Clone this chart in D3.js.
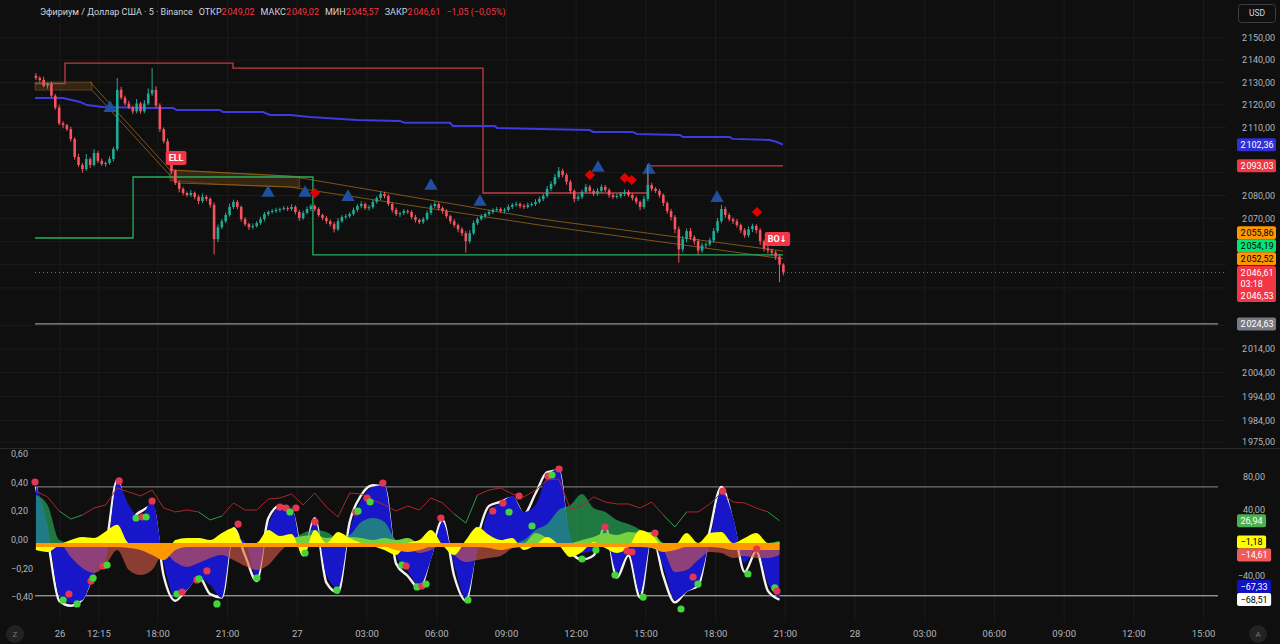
<!DOCTYPE html>
<html lang="ru">
<head>
<meta charset="utf-8">
<title>ETHUSD 5</title>
<script src="https://cdn.jsdelivr.net/npm/d3@7"></script>
<style>
    html, body { margin: 0; padding: 0; background: #0f0f0f; }
    svg { display: block; }
    text { font-family: Roboto, "DejaVu Sans", sans-serif; }
</style>
</head>
<body>
<svg id="chart" width="1280" height="644"></svg>
<script>
// ---------- price data (10 min candles, hours since 26th 00:00) ----------
var candleStart = 12.75,
    candleStep = 1 / 6,
    firstOpen = 2133.0;

var closes = [
    2132.0, 2131.1, 2128.5, 2129.4, 2124.1, 2118.8, 2111.8, 2111.0, 2109.2, 2104.8,
    2096.9, 2093.4, 2091.6, 2096.0, 2093.4, 2098.7, 2095.2, 2093.8, 2094.3, 2096.0,
    2100.4, 2126.7, 2123.2, 2120.6, 2118.8, 2117.1, 2120.6, 2117.1, 2120.6, 2125.0,
    2126.7, 2119.7, 2109.2, 2103.9, 2096.0, 2090.8, 2085.5, 2082.9, 2081.1, 2080.2,
    2081.1, 2079.4, 2077.6, 2079.4, 2078.5, 2075.9, 2061.0, 2066.2, 2068.8, 2071.5,
    2075.0, 2077.2, 2075.0, 2069.7, 2067.5, 2066.2, 2066.7, 2068.0, 2069.7, 2071.9,
    2072.8, 2073.2, 2073.7, 2074.1, 2074.5, 2074.1, 2075.0, 2072.8, 2070.2, 2072.4,
    2074.1, 2075.4, 2074.1, 2071.5, 2070.2, 2068.8, 2067.5, 2065.3, 2068.8, 2070.6,
    2071.0, 2071.9, 2073.7, 2075.4, 2076.3, 2074.5, 2074.9, 2077.2, 2078.9, 2080.7,
    2079.8, 2076.3, 2073.7, 2071.9, 2072.3, 2073.2, 2072.8, 2070.6, 2069.3, 2068.4,
    2069.7, 2072.4, 2075.4, 2076.3, 2074.5, 2073.2, 2071.0, 2068.8, 2067.1, 2065.3,
    2063.6, 2060.1, 2063.6, 2068.0, 2069.7, 2071.0, 2071.9, 2072.8, 2073.7, 2074.1,
    2073.2, 2073.7, 2075.0, 2075.9, 2076.3, 2075.4, 2075.0, 2075.9, 2076.3, 2077.2,
    2078.5, 2079.8, 2082.9, 2085.1, 2088.1, 2090.8, 2089.0, 2086.0, 2082.0, 2078.5,
    2079.4, 2081.6, 2083.8, 2082.0, 2080.7, 2082.0, 2083.8, 2082.4, 2080.2, 2079.4,
    2079.8, 2080.7, 2081.6, 2080.2, 2078.9, 2077.2, 2075.0, 2078.5, 2084.6, 2082.9,
    2082.0, 2080.2, 2076.7, 2073.2, 2070.6, 2065.3, 2056.6, 2061.0, 2064.5, 2061.8,
    2060.1, 2056.1, 2058.3, 2058.8, 2060.5, 2064.5, 2068.8, 2074.1, 2071.5, 2069.7,
    2068.8, 2067.1, 2064.9, 2062.7, 2065.3, 2066.7, 2064.9, 2060.1, 2057.0, 2056.1,
    2055.2, 2053.5, 2050.0, 2046.61
];
var wickUp = [
    1.2, 0.8, 1.5, 0.6, 1.0, 0.7, 1.3, 0.9, 0.6, 1.1,
    0.8, 1.4, 0.9, 2.2, 0.7, 1.6, 0.8, 1.0, 0.6, 1.2,
    1.0, 5.3, 1.4, 0.9, 1.2, 0.8, 2.0, 0.7, 1.5, 2.4,
    9.7, 1.6, 1.0, 0.8, 1.2, 0.9, 0.6, 1.1, 0.8, 0.7,
    1.3, 0.6, 0.9, 1.4, 0.8, 0.7, 1.0, 1.2, 0.9, 1.1,
    1.5, 1.0, 0.8, 0.6, 0.9, 0.7, 1.1, 0.8, 1.0, 0.9,
    0.7, 0.8, 1.0, 0.6, 0.9, 0.8, 1.2, 0.7, 0.9, 1.0,
    1.1, 0.9, 0.7, 0.8, 0.6, 0.9, 0.7, 1.0, 1.3, 0.8,
    0.9, 0.7, 1.0, 0.8, 1.2, 0.7, 0.9, 1.0, 0.8, 1.3,
    0.9, 0.7, 0.8, 1.0, 0.6, 0.9, 0.7, 0.8, 1.0, 0.7,
    0.9, 1.1, 1.0, 1.2, 0.8, 0.7, 0.9, 0.6, 0.8, 0.7,
    0.9, 1.0, 1.3, 1.1, 0.8, 0.9, 0.7, 1.0, 0.8, 0.9,
    0.7, 0.9, 1.0, 0.8, 1.1, 0.7, 0.9, 1.0, 0.8, 1.2,
    1.0, 0.9, 1.3, 1.1, 1.4, 1.7, 1.0, 0.8, 0.9, 0.7,
    1.1, 1.0, 1.2, 0.8, 0.9, 1.3, 1.0, 0.8, 0.7, 0.9,
    1.0, 0.8, 1.1, 0.9, 0.7, 0.8, 0.6, 1.3, 9.2, 1.0,
    0.8, 0.9, 0.7, 0.8, 1.0, 0.9, 1.2, 1.5, 1.1, 1.3,
    0.9, 1.0, 1.2, 0.8, 1.1, 1.3, 1.4, 1.8, 1.0, 0.9,
    0.8, 1.0, 0.7, 0.9, 1.2, 1.0, 0.8, 0.9, 0.7, 1.0,
    0.8, 0.9, 1.1, 0.6
];
var wickDn = [
    0.9, 1.1, 0.7, 1.3, 0.8, 1.0, 0.9, 1.4, 0.8, 1.1,
    1.2, 0.9, 1.6, 0.8, 1.3, 0.7, 1.0, 0.9, 1.2, 0.8,
    1.1, 0.9, 0.8, 1.0, 0.7, 1.2, 0.9, 1.0, 0.8, 0.7,
    1.0, 0.9, 1.2, 1.0, 0.8, 1.3, 0.9, 1.5, 1.0, 0.8,
    0.9, 1.1, 1.4, 0.8, 1.0, 1.2, 6.6, 1.3, 0.9, 0.8,
    0.7, 0.9, 1.0, 1.1, 0.8, 1.2, 0.9, 0.7, 0.8, 1.0,
    0.9, 0.7, 0.8, 1.0, 0.6, 0.9, 0.8, 1.1, 1.3, 0.8,
    0.7, 0.9, 1.0, 0.8, 0.9, 1.1, 1.0, 1.4, 0.8, 0.7,
    0.9, 0.8, 0.7, 1.0, 0.9, 0.8, 1.0, 0.7, 0.8, 0.9,
    1.0, 0.9, 1.1, 0.8, 1.3, 0.9, 0.8, 1.0, 1.1, 0.9,
    0.8, 0.7, 0.9, 0.8, 1.0, 1.2, 0.9, 1.1, 1.0, 1.3,
    1.2, 4.9, 1.0, 0.8, 0.9, 0.7, 1.0, 0.8, 0.9, 0.7,
    0.8, 1.0, 0.7, 0.9, 0.8, 1.0, 0.9, 0.7, 0.8, 0.9,
    0.7, 0.9, 0.8, 1.0, 0.9, 0.8, 1.1, 1.3, 1.2, 1.5,
    0.9, 1.0, 0.8, 1.1, 0.9, 0.8, 1.0, 0.9, 1.2, 1.0,
    0.8, 0.9, 1.0, 0.8, 1.1, 1.0, 1.4, 0.9, 1.0, 1.1,
    0.9, 1.2, 1.3, 1.1, 1.5, 1.8, 5.7, 1.2, 1.4, 1.1,
    1.5, 1.9, 1.0, 1.2, 0.9, 1.0, 0.8, 0.9, 1.3, 1.0,
    1.2, 1.0, 1.3, 1.1, 0.9, 1.2, 1.4, 1.6, 1.3, 1.2,
    1.4, 1.5, 7.5, 1.2
];

// ---------- overlays on price ----------
var resistHours = [12.71, 14.0, 21.23, 31.99, 39.09, 44.9],
    resistPrices = [2129.5, 2138.7, 2136.4, 2081.1, 2093.03, 2093.03];
var supportHours = [12.71, 16.93, 24.67, 44.9],
    supportPrices = [2061.5, 2088.1, 2054.19, 2054.19];
var basisHours = [12.71, 13.92, 14.65, 14.95, 15.64, 17.53, 18.65, 18.82, 20.67, 20.80, 22.52, 22.82, 23.68,
        24.54, 26.57, 28.42, 28.63, 30.57, 30.70, 32.51, 32.59, 34.44, 36.59, 36.72, 38.44, 38.61, 40.47,
        40.59, 42.61, 42.74, 44.34, 44.64, 44.90],
    basisPrices = [2123.1, 2123.1, 2121.3, 2119.9, 2119.0, 2118.6, 2118.6, 2117.7, 2117.7, 2116.8, 2116.8, 2115.5, 2115.5,
        2114.6, 2113.3, 2112.8, 2112.0, 2112.0, 2110.6, 2110.6, 2109.7, 2109.3, 2108.8, 2108.0, 2108.0, 2107.1, 2106.6,
        2105.7, 2105.7, 2104.9, 2104.4, 2103.5, 2102.36];
var trendUpperHours = [15.08, 18.52, 23.68, 34.44, 44.90],
    trendUpperPrices = [2130.2, 2091.2, 2088.5, 2069.8, 2055.86];
var trendLowerHours = [15.16, 18.82, 23.68, 34.44, 44.90],
    trendLowerPrices = [2126.6, 2085.5, 2083.7, 2067.1, 2052.52];
var zoneHours = [[12.71, 15.16], [18.52, 20.5, 24.1]],
    zoneTops = [[2130.2, 2130.2], [2091.2, 2090.2, 2088.3]],
    zoneBottoms = [[2126.6, 2126.6], [2086.5, 2085.0, 2083.6]];
var buyHours = [15.94, 22.74, 24.33, 26.18, 29.75, 31.86, 36.94, 39.13, 42.06],
    buyPrices = [2118.6, 2081.1, 2081.1, 2079.3, 2084.2, 2077.2, 2092.1, 2091.2, 2078.9];
var sellHours = [24.76, 36.59, 38.09, 38.39, 43.78],
    sellPrices = [2081.1, 2089.0, 2087.7, 2086.8, 2072.8];
var tagTexts = ['ELL', 'BO\u2193'],
    tagHours = [18.78, 44.66],
    tagPrices = [2096.5, 2061.1];
var lastPrice = 2046.61, bidPrice = 2046.53, countdown = '03:18', alertLevel = 2024.63;

// ---------- oscillator (30 min samples) ----------
var oscStart = 12.75, oscStep = 0.5;
var wave = [
    70.3, 21.8, -63.0, -72.7, -69.1, -38.8, -20.6, 73.9, 46.1, 30.3,
    52.1, -24.2, -65.5, -57.0, -42.4, -50.9, -66.7, 9.7, 1.2, -41.2,
    21.8, 43.6, 43.6, -12.1, 27.9, -38.8, -54.5, 15.8, 52.1, 67.9,
    70.3, -14.5, -33.9, -52.1, -20.6, 25.5, -26.7, -66.7, -8.5, 38.8,
    48.5, 57.0, 37.6, 46.1, 81.2, 89.7, 7.3, -12.1, -8.5, 9.7,
    -35.2, -10.9, -60.6, 3.6, -29.1, -69.1, -59.4, -48.5, 3.6, 64.2,
    31.5, -24.2, -6.1, -48.5, -67.33
];
var waveFast = [
    68, 5, -70, -76, -68, -35, -5, 76, 30, 38,
    45, -40, -70, -55, -40, -62, -66, 18, -15, -46,
    30, 45, 40, -15, 30, -48, -60, 25, 58, 70,
    68, -25, -40, -55, -15, 28, -40, -70, 5, 45,
    50, 55, 35, 60, 86, 88, -10, -20, -15, 20,
    -42, -15, -66, 12, -40, -72, -58, -52, 15, 68,
    25, -35, -10, -58, -68.51
];
var moneyFlow = [
    58.2, 46.1, 3.6, -17.0, -30.3, -36.4, -26.7, -8.5, -32.7, -38.8,
    -32.7, -12.1, -23.0, -29.1, -24.2, -18.2, -14.5, -20.6, -27.9, -32.7,
    -26.7, -10.9, 3.6, 12.1, 15.8, 13.3, 6.1, 9.7, 25.5, 30.3,
    25.5, 3.6, -3.6, -12.1, -8.5, 0, -14.5, -23.0, -20.6, -18.2,
    -15.8, -6.1, 3.6, 15.8, 23.0, 40.0, 46.1, 59.4, 42.4, 37.6,
    27.9, 23.0, 15.8, 1.2, -8.5, -35.2, -32.7, -20.6, -10.9, -12.1,
    -18.2, -15.8, -18.2, -18.2, -14.61
];
var flowLight = [
    0, 0, 0, 0, 0, 0, 0, 0, 0, 0,
    0, 0, 0, 0, 0, 0, 0, 0, 0, 0,
    0, 3.6, 6.1, 8.5, 9.7, 6.1, 7.3, 7.3, 6.1, 3.6,
    6.1, 3.6, 6.1, 0, 0, 0, 0, 0, 0, 0,
    0, 0, 0, 12.1, 6.1, 0, 0, 3.6, 7.3, 12.1,
    9.7, 13.3, 12.1, 13.3, 0, 0, 0, 0, 0, 0,
    0, 0, 0, 0, 2.0
];
var vwap = [
    -8.5, -10.9, -2.4, 3.6, 7.3, 6.1, 14.0, 22.0, 0, 0,
    -6.1, -18.2, 3.6, 6.1, 6.1, 3.6, 12.1, 18.2, -2.4, 0,
    15.8, 8.5, 10.9, -14.5, 15.8, 0, 13.3, 6.1, 0, -3.6,
    -8.5, -14.5, 0, 3.6, 15.8, -2.4, -14.5, 3.6, 19.4, 9.7,
    3.6, 6.1, -8.5, -2.4, 7.3, -2.4, -17.0, -10.9, 1.2, -6.1,
    -12.1, -4.8, 15.8, 9.7, -3.6, -2.4, 12.1, 0, 12.1, 13.3,
    0, 6.1, 12.1, 0, -1.18
];
var flowBase = [
    -4.8, -4.8, -4.8, -4.8, -4.8, -4.8, -4.8, -4.8, -6.1, -8.5,
    -14.5, -20.6, -8.5, -4.8, -4.8, -4.8, -4.8, -4.8, -4.8, -4.8,
    -4.8, -4.8, -4.8, -4.8, -4.8, -4.8, -4.8, -4.8, -4.8, -4.8,
    -4.8, -8.5, -10.9, -8.5, -4.8, -4.8, -4.8, -4.8, -4.8, -6.1,
    -8.5, -6.1, -4.8, -4.8, -4.8, -4.8, -4.8, -4.8, -4.8, -4.8,
    -4.8, -4.8, -4.8, -6.1, -10.9, -8.5, -4.8, -4.8, -4.8, -6.1,
    -8.5, -8.5, -8.5, -8.5, -8.5
];
var rsi = [
    63.0, 55.8, 38.8, 29.1, 33.9, 42.4, 46.1, 66.7, 61.8, 57.0,
    64.2, 42.4, 37.6, 40.0, 37.6, 27.9, 32.7, 48.5, 40.0, 40.0,
    53.3, 54.5, 59.4, 46.1, 60.6, 43.6, 31.5, 60.6, 59.4, 52.1,
    46.1, 38.8, 44.8, 40.0, 54.5, 48.5, 35.2, 24.2, 58.2, 64.2,
    66.7, 59.4, 55.8, 64.2, 76.4, 77.6, 41.2, 44.8, 55.8, 49.7,
    47.3, 47.3, 42.4, 49.7, 33.9, 19.4, 37.6, 37.6, 47.3, 60.6,
    49.7, 48.5, 42.4, 37.6, 26.94
];
var crossDots = [
    [12.71, 73.9, 'r'], [16.33, 75.2, 'r'], [17.06, 30.3, 'g'], [17.32, 31.5, 'r'], [17.49, 31.5, 'g'], [17.75, 50.9, 'r'],
    [13.92, -69.1, 'g'], [14.17, -61.8, 'r'], [14.52, -73.9, 'g'], [15.12, -46.1, 'r'], [15.21, -42.4, 'g'],
    [15.64, -27.9, 'r'], [15.81, -26.7, 'g'], [18.82, -61.8, 'g'], [19.04, -59.4, 'r'], [19.68, -44.8, 'r'],
    [19.77, -43.6, 'g'], [20.11, -33.9, 'r'], [20.54, -73.9, 'g'], [21.45, 23.0, 'r'], [22.26, -42.4, 'g'],
    [23.25, 43.6, 'r'], [23.51, 42.4, 'r'], [23.68, 37.6, 'g'], [23.94, 42.4, 'r'], [24.33, -12.1, 'g'],
    [24.76, 25.5, 'r'], [25.70, -57.0, 'g'], [26.52, 37.6, 'r'], [26.61, 38.8, 'g'], [27.00, 54.5, 'r'],
    [27.13, 49.7, 'g'], [27.68, 72.7, 'r'], [28.50, -26.7, 'g'], [28.68, -27.9, 'r'], [29.15, -53.3, 'g'],
    [29.36, -52.1, 'r'], [29.54, -49.7, 'g'], [30.18, 30.3, 'r'], [31.34, -69.1, 'g'], [32.41, 38.8, 'r'],
    [32.85, 48.5, 'r'], [33.11, 37.6, 'g'], [33.54, 57.0, 'r'], [34.10, 20.6, 'g'], [34.79, 81.2, 'r'],
    [34.96, 82.4, 'g'], [35.26, 89.7, 'r'], [36.25, -19.4, 'g'], [36.85, -8.5, 'g'], [37.24, 19.4, 'r'],
    [37.67, -38.8, 'g'], [38.19, -9.7, 'r'], [38.40, -10.9, 'r'], [38.88, -65.5, 'g'], [39.39, 12.1, 'r'],
    [40.51, -80.0, 'g'], [41.03, -41.2, 'r'], [41.24, -49.7, 'g'], [42.31, 63.0, 'r'], [43.39, -37.6, 'g'],
    [43.77, -7.3, 'r'], [44.55, -54.5, 'g'], [44.64, -58.2, 'r']
];
var oscLevels = [68, -64];

// ---------- axes ----------
var timeTickHours = [13.79, 15.46, 18, 21, 24, 27, 30, 33, 36, 39, 42, 45, 48, 51, 54, 57, 60, 63],
    timeTickLabels = ['26', '12:15', '18:00', '21:00', '27', '03:00', '06:00', '09:00', '12:00', '15:00',
        '18:00', '21:00', '28', '03:00', '06:00', '09:00', '12:00', '15:00'];
var priceTicks = [2150, 2140, 2130, 2120, 2110, 2100, 2090, 2080, 2070, 2060, 2050, 2040, 2024, 2014, 2004, 1994, 1984, 1975];
var oscLeftTicks = [0.6, 0.4, 0.2, 0, -0.2, -0.4];
var oscRightTicks = [80, 40, 0, -40, -80];
var oscMarkValues = [26.94, -1.18, -14.61, -67.33, -68.51];
var headerTitle = 'Эфириум / Доллар США · 5 · Binance',
    headerNames = ['ОТКР', 'МАКС', 'МИН', 'ЗАКР'],
    headerValues = [2049.02, 2049.02, 2045.57, 2046.61],
    headerChange = -1.05, headerChangePct = -0.05;

var ruLocale = d3.formatLocale({decimal: ',', thousands: '\u200a', grouping: [3], currency: ['', '']});
var fmtPrice = ruLocale.format(',.2f'),
    fmtPlain = ruLocale.format('.2f');

function CipherChart() {
    this.svg = d3.select('#chart');
    this.plotRight = 1226;
    this.mainBottom = 448;
    this.oscBottom = 622;
    this.init();
}

CipherChart.prototype.init = function () {
    this.x = d3.scaleLinear().domain([12.71, 44.90]).range([35, 783]);
    this.yPrice = d3.scaleLog().domain([1975, 2150]).range([442, 38]);
    this.yOsc = d3.scaleLinear().domain([-80, 80]).range([609, 477]);
    this.yOscLeft = d3.scaleLinear().domain([-0.4, 0.6]).range([597, 454]);

    var defs = this.svg.append('defs');
    defs.append('clipPath').attr('id', 'mainClip').append('rect')
        .attr('x', 0).attr('y', 0).attr('width', this.plotRight).attr('height', this.mainBottom);
    defs.append('clipPath').attr('id', 'oscClip').append('rect')
        .attr('x', 0).attr('y', this.mainBottom + 1).attr('width', this.plotRight).attr('height', this.oscBottom - this.mainBottom - 1);

    this.drawGrid();
    this.drawOverlays();
    this.drawCandles();
    this.drawOscillator();
    this.drawAxes();
    this.drawHeader();
};

CipherChart.prototype.drawGrid = function () {
    var me = this;
    this.svg.append('rect').attr('width', 1280).attr('height', 644).attr('fill', '#0f0f0f');

    this.svg.append('g').selectAll('line').data(timeTickHours).enter().append('line')
        .attr('x1', function (d) { return me.x(d); })
        .attr('x2', function (d) { return me.x(d); })
        .attr('y1', 0).attr('y2', this.oscBottom)
        .attr('stroke', '#1b1b1b');

    this.svg.append('g').selectAll('line').data(priceTicks).enter().append('line')
        .attr('x1', 0).attr('x2', this.plotRight)
        .attr('y1', function (d) { return me.yPrice(d); })
        .attr('y2', function (d) { return me.yPrice(d); })
        .attr('stroke', '#1b1b1b');

    this.svg.append('line').attr('x1', 0).attr('x2', 1280)
        .attr('y1', this.mainBottom + 0.5).attr('y2', this.mainBottom + 0.5)
        .attr('stroke', '#2a2a2a');
};

CipherChart.prototype.drawOverlays = function () {
    var me = this,
        g = this.svg.append('g').attr('clip-path', 'url(#mainClip)');

    function pathOf(hours, prices, curve) {
        return d3.line()
            .x(function (d, i) { return me.x(hours[i]); })
            .y(function (d) { return me.yPrice(d); })
            .curve(curve || d3.curveLinear)(prices);
    }

    zoneHours.forEach(function (hours, z) {
        g.append('path')
            .attr('d', d3.area()
                .x(function (d, i) { return me.x(hours[i]); })
                .y0(function (d, i) { return me.yPrice(zoneBottoms[z][i]); })
                .y1(function (d) { return me.yPrice(d); })(zoneTops[z]))
            .attr('fill', 'rgba(150,100,30,0.28)')
            .attr('stroke', 'rgba(170,110,30,0.55)')
            .attr('stroke-width', 0.8);
    });

    [[trendUpperHours, trendUpperPrices], [trendLowerHours, trendLowerPrices]].forEach(function (t) {
        g.append('path').attr('d', pathOf(t[0], t[1]))
            .attr('fill', 'none').attr('stroke', '#a06a1c').attr('stroke-opacity', 0.85).attr('stroke-width', 0.9);
    });

    g.append('path').attr('d', pathOf(resistHours, resistPrices, d3.curveStepAfter))
        .attr('fill', 'none').attr('stroke', '#c23c47').attr('stroke-width', 1.3);
    g.append('path').attr('d', pathOf(supportHours, supportPrices, d3.curveStepAfter))
        .attr('fill', 'none').attr('stroke', '#27b060').attr('stroke-width', 1.3);
    g.append('path').attr('d', pathOf(basisHours, basisPrices))
        .attr('fill', 'none').attr('stroke', '#3b3bdf').attr('stroke-width', 2);

    g.append('line').attr('x1', 35).attr('x2', 1218)
        .attr('y1', this.yPrice(alertLevel)).attr('y2', this.yPrice(alertLevel))
        .attr('stroke', '#b4b4b4').attr('stroke-width', 1);
    g.append('line').attr('x1', 35).attr('x2', this.plotRight)
        .attr('y1', this.yPrice(lastPrice)).attr('y2', this.yPrice(lastPrice))
        .attr('stroke', '#f23645').attr('stroke-dasharray', '1,3').attr('stroke-width', 1);

    g.selectAll('.buy').data(buyHours).enter().append('path')
        .attr('d', d3.symbol().type(d3.symbolTriangle).size(78))
        .attr('transform', function (d, i) { return 'translate(' + me.x(d) + ',' + me.yPrice(buyPrices[i]) + ')'; })
        .attr('fill', '#1f4f9e');
    g.selectAll('.sell').data(sellHours).enter().append('path')
        .attr('d', d3.symbol().type(d3.symbolSquare).size(52))
        .attr('transform', function (d, i) { return 'translate(' + me.x(d) + ',' + me.yPrice(sellPrices[i]) + ') rotate(45)'; })
        .attr('fill', '#e40000');
};

CipherChart.prototype.drawCandles = function () {
    var me = this,
        g = this.svg.append('g').attr('clip-path', 'url(#mainClip)');
    var candles = closes.map(function (c, i) {
        var o = i ? closes[i - 1] : firstOpen;
        return {t: candleStart + i * candleStep, o: o, c: c,
            h: Math.max(o, c) + wickUp[i], l: Math.min(o, c) - wickDn[i]};
    });
    var bodyW = 2.6;

    var sel = g.selectAll('g.candle').data(candles).enter().append('g');
    sel.append('line')
        .attr('x1', function (d) { return me.x(d.t); })
        .attr('x2', function (d) { return me.x(d.t); })
        .attr('y1', function (d) { return me.yPrice(d.h); })
        .attr('y2', function (d) { return me.yPrice(d.l); })
        .attr('stroke', function (d) { return d.c >= d.o ? '#22ab94' : '#f7525f'; })
        .attr('stroke-width', 1);
    sel.append('rect')
        .attr('x', function (d) { return me.x(d.t) - bodyW / 2; })
        .attr('width', bodyW)
        .attr('y', function (d) { return me.yPrice(Math.max(d.o, d.c)); })
        .attr('height', function (d) { return Math.max(1, Math.abs(me.yPrice(d.o) - me.yPrice(d.c))); })
        .attr('fill', function (d) { return d.c >= d.o ? '#22ab94' : '#f7525f'; });

    tagTexts.forEach(function (txt, i) {
        var cx = me.x(tagHours[i]), cy = me.yPrice(tagPrices[i]);
        var t = g.append('text').attr('x', cx).attr('y', cy).attr('dy', '0.35em')
            .attr('text-anchor', 'middle').attr('font-size', 9).attr('font-weight', 'bold')
            .attr('fill', '#ffffff').text(txt);
        var w = t.node().getComputedTextLength() + 6;
        g.insert('rect', function () { return t.node(); })
            .attr('x', cx - w / 2).attr('y', cy - 7).attr('width', w).attr('height', 14)
            .attr('rx', 2).attr('fill', '#f23645');
    });
};

CipherChart.prototype.drawOscillator = function () {
    var me = this,
        y = this.yOsc,
        g = this.svg.append('g').attr('clip-path', 'url(#oscClip)');
    var xOf = function (d, i) { return me.x(oscStart + i * oscStep); };

    function areaOf(vals) {
        return d3.area().x(xOf).y0(y(0)).y1(function (d) { return y(d); })
            .curve(d3.curveMonotoneX)(vals);
    }

    g.selectAll('.lvl').data(oscLevels).enter().append('line')
        .attr('x1', 35).attr('x2', 1218)
        .attr('y1', function (d) { return y(d); })
        .attr('y2', function (d) { return y(d); })
        .attr('stroke', function (d, i) { return i ? '#c8c8c8' : '#8c8c8c'; })
        .attr('stroke-width', 1);

    g.append('path')
        .attr('d', d3.line().x(xOf).y(function (d) { return y(d); }).curve(d3.curveMonotoneX)(waveFast))
        .attr('fill', 'none').attr('stroke', '#f2f2f2').attr('stroke-width', 2.4);
    g.append('path').attr('d', areaOf(wave)).attr('fill', '#1717c9');

    g.append('path').attr('d', areaOf(moneyFlow.map(function (v) { return Math.max(v, 0); })))
        .attr('fill', 'rgb(40,185,95)').attr('fill-opacity', 0.62);
    g.append('path').attr('d', areaOf(moneyFlow.map(function (v) { return Math.min(v, 0); })))
        .attr('fill', 'rgb(222,92,72)').attr('fill-opacity', 0.6);
    g.append('path').attr('d', areaOf(flowLight)).attr('fill', '#76d13f');
    g.append('path').attr('d', areaOf(vwap)).attr('fill', '#ffff00');
    g.append('path').attr('d', areaOf(flowBase)).attr('fill', '#ff9800');

    var segs = d3.range(rsi.length - 1);
    g.selectAll('.rsi').data(segs).enter().append('line')
        .attr('x1', function (i) { return xOf(null, i); })
        .attr('x2', function (i) { return xOf(null, i + 1); })
        .attr('y1', function (i) { return y(rsi[i]); })
        .attr('y2', function (i) { return y(rsi[i + 1]); })
        .attr('stroke', function (i) { return Math.min(rsi[i], rsi[i + 1]) < 30 ? '#2f9a45' : '#a8282e'; })
        .attr('stroke-width', 1);

    g.selectAll('.dot').data(crossDots).enter().append('circle')
        .attr('cx', function (d) { return me.x(d[0]); })
        .attr('cy', function (d) { return y(d[1]); })
        .attr('r', 3.6)
        .attr('fill', function (d) { return d[2] === 'r' ? '#e53650' : '#43d63a'; });
};

// place value boxes on the price scale, pushing them up when they collide
CipherChart.prototype.layoutMarks = function (marks, scale) {
    marks.forEach(function (m) {
        m.cy = scale(m.value);
        m.up = 6.5;
        m.down = 6.5 + (m.lines.length - 1) * 11.5;
    });
    var order = marks.slice().sort(function (a, b) { return b.cy - a.cy; });
    for (var i = 1; i < order.length; i++) {
        var limit = order[i - 1].cy - order[i - 1].up;
        if (order[i].cy + order[i].down > limit) order[i].cy = limit - order[i].down;
    }
    return marks;
};

CipherChart.prototype.renderMarks = function (marks, fixedWidth) {
    var g = this.svg.append('g');
    marks.forEach(function (m) {
        var box = g.append('rect').attr('x', 1237).attr('y', m.cy - m.up)
            .attr('height', m.up + m.down).attr('rx', 2).attr('fill', m.bg);
        var widest = 0;
        m.lines.forEach(function (s, j) {
            var t = g.append('text').attr('x', 1240.5).attr('y', m.cy + j * 11.5).attr('dy', '0.35em')
                .attr('font-size', 9).attr('fill', m.fg).text(s);
            widest = Math.max(widest, t.node().getComputedTextLength());
        });
        box.attr('width', fixedWidth || widest + 7);
    });
};

// a tick label is hidden when a value box sits on top of it
function coveredBy(marks, yy) {
    return marks.some(function (m) { return yy + 4 > m.cy - m.up && yy - 4 < m.cy + m.down; });
}

CipherChart.prototype.drawAxes = function () {
    var me = this, axisColor = '#b2b5be';

    var mainColors = [['#3030d8', '#fff'], ['#f23645', '#fff'], ['#ff9800', '#000'], ['#00e676', '#000'],
        ['#ff9800', '#000'], ['#f23645', '#fff'], ['#787b86', '#fff']];
    var mainValues = [basisPrices[basisPrices.length - 1], resistPrices[resistPrices.length - 1],
        trendUpperPrices[trendUpperPrices.length - 1], supportPrices[supportPrices.length - 1],
        trendLowerPrices[trendLowerPrices.length - 1], lastPrice, alertLevel];
    var mainMarks = this.layoutMarks(mainValues.map(function (v, i) {
        var lines = v === lastPrice ? [fmtPrice(lastPrice), countdown, fmtPrice(bidPrice)] : [fmtPrice(v)];
        return {value: v, lines: lines, bg: mainColors[i][0], fg: mainColors[i][1]};
    }), this.yPrice);

    var oscColors = [['#4caf50', '#fff'], ['#ffff00', '#000'], ['#f25a5a', '#fff'], ['#1212c4', '#fff'], ['#ffffff', '#000']];
    var oscMarks = this.layoutMarks(oscMarkValues.map(function (v, i) {
        return {value: v, lines: [fmtPlain(v)], bg: oscColors[i][0], fg: oscColors[i][1]};
    }), this.yOsc);

    this.svg.append('g').selectAll('text')
        .data(priceTicks.filter(function (d) { return !coveredBy(mainMarks, me.yPrice(d)); }))
        .enter().append('text')
        .attr('x', 1275).attr('y', function (d) { return me.yPrice(d); }).attr('dy', '0.35em')
        .attr('text-anchor', 'end').attr('font-size', 9).attr('fill', axisColor)
        .text(function (d) { return fmtPrice(d); });

    this.svg.append('g').selectAll('text')
        .data(oscRightTicks.filter(function (d) { return !coveredBy(oscMarks, me.yOsc(d)); }))
        .enter().append('text')
        .attr('x', 1265).attr('y', function (d) { return me.yOsc(d); }).attr('dy', '0.35em')
        .attr('text-anchor', 'end').attr('font-size', 9).attr('fill', axisColor)
        .text(function (d) { return fmtPlain(d); });

    this.svg.append('g').selectAll('text').data(oscLeftTicks).enter().append('text')
        .attr('x', 11).attr('y', function (d) { return me.yOscLeft(d); }).attr('dy', '0.35em')
        .attr('font-size', 9).attr('fill', axisColor)
        .text(function (d) { return fmtPlain(d); });

    this.svg.append('g').selectAll('text').data(timeTickHours).enter().append('text')
        .attr('x', function (d) { return me.x(d); }).attr('y', 634).attr('dy', '0.35em')
        .attr('text-anchor', 'middle').attr('font-size', 9.5).attr('fill', axisColor)
        .text(function (d, i) { return timeTickLabels[i]; });

    this.renderMarks(mainMarks, 39);
    this.renderMarks(oscMarks);

    // USD box and corner buttons
    this.svg.append('rect').attr('x', 1238.5).attr('y', 4.5).attr('width', 37).attr('height', 18)
        .attr('rx', 3).attr('fill', '#0f0f0f').attr('stroke', '#3a3d45');
    this.svg.append('text').attr('x', 1257).attr('y', 13.5).attr('dy', '0.35em')
        .attr('text-anchor', 'middle').attr('font-size', 8.5).attr('fill', '#d1d4dc').text('USD');
    [[15, 'Z'], [1258, 'A']].forEach(function (b) {
        me.svg.append('circle').attr('cx', b[0]).attr('cy', 634).attr('r', 9).attr('fill', '#222');
        me.svg.append('text').attr('x', b[0]).attr('y', 634).attr('dy', '0.35em')
            .attr('text-anchor', 'middle').attr('font-size', 8).attr('fill', '#777').text(b[1]);
    });
};

CipherChart.prototype.drawHeader = function () {
    var t = this.svg.append('text').attr('x', 40).attr('y', 12).attr('dy', '0.35em')
        .attr('font-size', 9).attr('fill', '#d1d4dc');
    t.append('tspan').text(headerTitle);
    headerNames.forEach(function (name, i) {
        t.append('tspan').attr('dx', 6).attr('fill', '#d1d4dc').text(name);
        t.append('tspan').attr('fill', '#f23645').text(fmtPrice(headerValues[i]));
    });
    t.append('tspan').attr('dx', 6).attr('fill', '#f23645')
        .text(fmtPlain(headerChange) + ' (' + fmtPlain(headerChangePct) + '%)');
};

new CipherChart();
</script>
</body>
</html>
